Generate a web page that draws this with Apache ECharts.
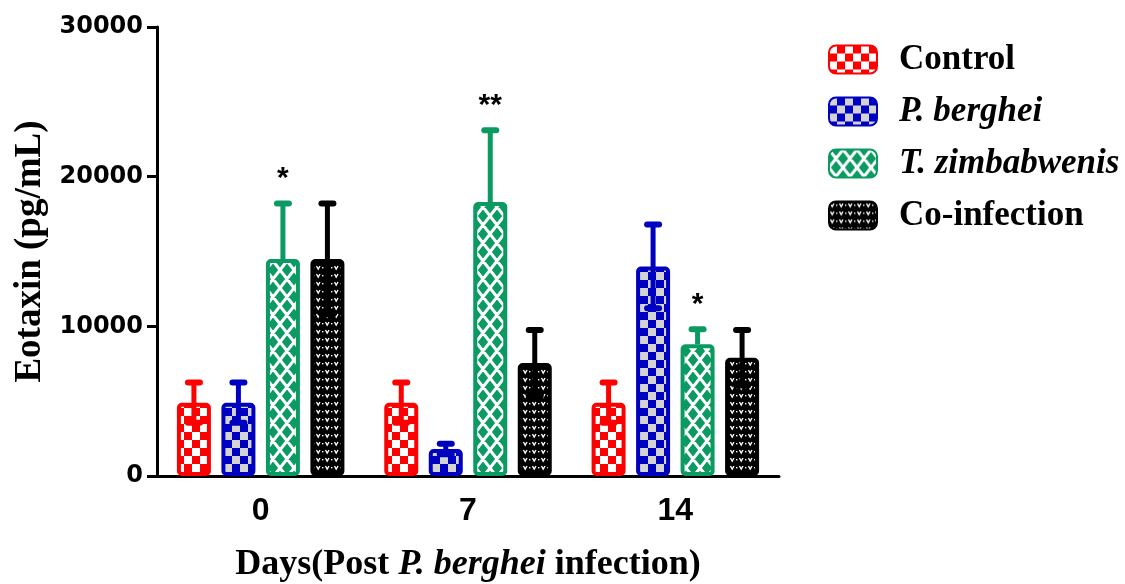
<!DOCTYPE html>
<html><head><meta charset="utf-8">
<script src="https://cdn.jsdelivr.net/npm/echarts@6/dist/echarts.min.js"></script>
<style>html,body{margin:0;padding:0;background:#fff}#c{width:1125px;height:584px}</style>
</head><body><div id="c"></div>
<script>
// ---- data ----
const categories = ['0', '7', '14'];
const seriesNames = ['Control', 'P. berghei', 'T. zimbabwenis', 'Co-infection'];
const control = [4900, 4900, 4900];
const controlErr = [1350, 1350, 1350];
const pberghei = [4900, 1800, 14000];
const pbergheiErr = [1350, 350, 2800];
const tzimb = [14500, 18300, 8800];
const tzimbErr = [3700, 4800, 1000];
const coinf = [14500, 7550, 7900];
const coinfErr = [3700, 2200, 1850];
const tzimbSig = ['*', '**', '*'];
const yTicks = [0, 10000, 20000, 30000];

// ---- styles ----
const RED = '#ff0000', BLUE = '#0000c0', GREEN = '#0a9a62', BLACK = '#000000';
const BAR_W = 34, GAP = 10.5;
const PITCH = BAR_W + GAP;
const offsets = [-1.5 * PITCH, -0.5 * PITCH, 0.5 * PITCH, 1.5 * PITCH];

function makeCanvas(w, h, draw) {
  const c = document.createElement('canvas');
  c.width = w; c.height = h;
  draw(c.getContext('2d'), w, h);
  return c;
}
const pControl = makeCanvas(16, 16, (g) => {
  g.fillStyle = RED; g.fillRect(0, 0, 16, 16);
  g.fillStyle = '#ffffff'; g.fillRect(0, 0, 8, 8); g.fillRect(8, 8, 8, 8);
});
const pBlue = makeCanvas(16, 16, (g) => {
  g.fillStyle = BLUE; g.fillRect(0, 0, 16, 16);
  g.fillStyle = '#d3d3d3'; g.fillRect(0, 0, 8, 8); g.fillRect(8, 8, 8, 8);
});
const pGreen = makeCanvas(14, 18, (g, w, h) => {
  g.fillStyle = GREEN; g.fillRect(0, 0, w, h);
  g.strokeStyle = '#ffffff'; g.lineWidth = 3;
  g.beginPath();
  for (const dx of [-w, 0, w]) for (const dy of [-h, 0, h]) {
    g.moveTo(dx, dy); g.lineTo(dx + w, dy + h);
    g.moveTo(dx + w, dy); g.lineTo(dx, dy + h);
  }
  g.stroke();
});
const pBlack = makeCanvas(9, 8, (g, w, h) => {
  g.fillStyle = BLACK; g.fillRect(0, 0, w, h);
  g.strokeStyle = '#ffffff'; g.lineWidth = 1.4;
  g.beginPath();
  g.moveTo(1.5, 2); g.lineTo(3.2, 5); g.lineTo(5, 2);
  g.stroke();
  g.fillStyle = '#ffffff'; g.fillRect(7, 3, 1.4, 1.4);
});

const defs = [
  { name: seriesNames[0], vals: control, errs: controlErr, col: RED, pat: pControl, lower: true },
  { name: seriesNames[1], vals: pberghei, errs: pbergheiErr, col: BLUE, pat: pBlue, lower: true },
  { name: seriesNames[2], vals: tzimb, errs: tzimbErr, col: GREEN, pat: pGreen, sig: tzimbSig, lower: false },
  { name: seriesNames[3], vals: coinf, errs: coinfErr, col: BLACK, pat: pBlack, lower: true }
];

const series = [];
defs.forEach((d, i) => {
  series.push({
    type: 'bar', name: d.name, data: d.vals,
    barWidth: BAR_W, barGap: (GAP / BAR_W * 100) + '%',
    itemStyle: { color: { image: d.pat, repeat: 'repeat' }, borderColor: d.col, borderWidth: 4, borderRadius: 3 },
    z: 2
  });
});
defs.forEach((d, i) => {
  series.push({
    type: 'custom', name: 'err-' + i, z: 5,
    data: categories.map((c, k) => [k, d.vals[k], d.errs[k]]),
    encode: { x: 0, y: 1 },
    renderItem: (params, api) => {
      const k = api.value(0), v = api.value(1), e = api.value(2);
      const base = api.coord([k, v]);
      const top = api.coord([k, v + e]);
      const bot = api.coord([k, v - e]);
      const x = base[0] + offsets[i];
      const st = { stroke: d.col, lineWidth: 5 };
      const cap = { stroke: d.col, lineWidth: 6, lineCap: 'round' };
      const children = [
        { type: 'line', shape: { x1: x, y1: d.lower ? bot[1] : base[1], x2: x, y2: top[1] }, style: st },
        { type: 'line', shape: { x1: x - 6, y1: top[1], x2: x + 6, y2: top[1] }, style: cap }
      ];
      if (d.lower) {
        children.push({ type: 'line', shape: { x1: x - 6, y1: bot[1], x2: x + 6, y2: bot[1] }, style: cap });
      }
      if (d.sig && d.sig[params.dataIndex]) {
        children.push({
          type: 'text',
          style: { x: x, y: top[1] - 25, text: d.sig[params.dataIndex], align: 'center', verticalAlign: 'middle',
                   fontFamily: 'Liberation Sans', fontWeight: 'bold', fontSize: 30, fill: '#000' }
        });
      }
      return { type: 'group', children };
    }
  });
});

const italicNames = new Set(['P. berghei', 'T. zimbabwenis']);
const serif = 'Liberation Serif';

const chart = echarts.init(document.getElementById('c'), null, { renderer: 'canvas' });
chart.setOption({
  animation: false,
  backgroundColor: '#ffffff',
  grid: { left: 157, right: 346, top: 27, bottom: 108, containLabel: false, outerBoundsMode: 'none' },
  legend: {
    orient: 'vertical', left: 823, top: 37,
    itemWidth: 48, itemHeight: 28, itemGap: 17,
    data: seriesNames,
    formatter: (n) => (italicNames.has(n) ? '{i|' : '{b|') + n + '}',
    textStyle: {
      rich: {
        b: { fontFamily: serif, fontWeight: 'bold', fontSize: 35, color: '#000', padding: [0, 0, 0, 17], lineHeight: 30 },
        i: { fontFamily: serif, fontWeight: 'bold', fontStyle: 'italic', fontSize: 35, color: '#000', padding: [0, 0, 0, 17], lineHeight: 30 }
      }
    }
  },
  xAxis: {
    type: 'category', data: categories,
    axisLine: { lineStyle: { color: '#000', width: 3 } },
    axisTick: { alignWithLabel: true, length: 11, lineStyle: { color: '#000', width: 3 } },
    axisLabel: { fontFamily: 'Liberation Sans', fontWeight: 'bold', fontSize: 32, color: '#000', margin: 19 },
    name: '{b|Days(Post }{i|P. berghei}{b| infection)}',
    nameLocation: 'middle', nameGap: 71, nameMoveOverlap: false,
    nameTextStyle: {
      rich: {
        b: { fontFamily: serif, fontWeight: 'bold', fontSize: 36, color: '#000' },
        i: { fontFamily: serif, fontWeight: 'bold', fontStyle: 'italic', fontSize: 36, color: '#000' }
      }
    }
  },
  yAxis: {
    type: 'value', min: yTicks[0], max: yTicks[yTicks.length - 1], interval: yTicks[1] - yTicks[0],
    splitLine: { show: false },
    axisLine: { show: true, lineStyle: { color: '#000', width: 3 } },
    axisTick: { show: true, length: 10, lineStyle: { color: '#000', width: 3 } },
    axisLabel: { fontFamily: 'DejaVu Sans', fontWeight: 'bold', fontSize: 24, color: '#000', margin: 14,
                 formatter: (v) => String(v) },
    name: 'Eotaxin (pg/mL)', nameLocation: 'middle', nameGap: 108, nameRotate: 90, nameMoveOverlap: false,
    nameTextStyle: { fontFamily: serif, fontWeight: 'bold', fontSize: 37, color: '#000' }
  },
  series
});
</script></body></html>
